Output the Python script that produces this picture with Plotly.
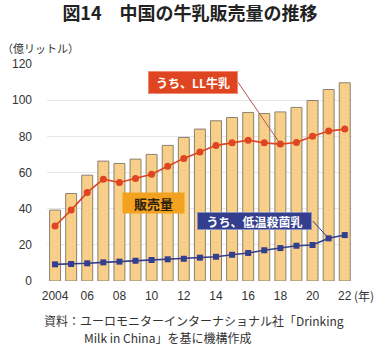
import plotly.graph_objects as go

years = list(range(2004, 2023))
sales = [39.2, 48.4, 58.5, 66.3, 65.0, 67.4, 70.0, 75.0, 79.4, 84.0, 88.6, 90.4,
         93.2, 92.6, 93.5, 96.0, 99.8, 105.9, 109.6]
ll_milk = [30.4, 39.2, 49.0, 56.3, 54.5, 56.7, 59.0, 63.5, 67.8, 71.4, 75.0, 76.4,
           77.9, 76.4, 75.7, 76.6, 80.0, 82.9, 84.0]
pasteurized = [9.2, 9.4, 9.8, 10.3, 10.7, 11.2, 11.6, 12.0, 12.3, 12.9, 13.4, 14.5,
               15.5, 17.0, 18.2, 19.5, 19.9, 23.6, 25.4]
tick_years = [2004, 2006, 2008, 2010, 2012, 2014, 2016, 2018, 2020, 2022]
tick_text = ["2004", "06", "08", "10", "12", "14", "16", "18", "20", "22"]
y_ticks = [0, 20, 40, 60, 80, 100, 120]

FONT = "Liberation Sans, Arial, Noto Sans CJK JP"
CJK = "Noto Sans CJK JP"
RED = "#DF4520"
NAVY = "#343E8E"

fig = go.Figure()
fig.add_trace(go.Bar(
    x=years, y=sales, width=0.68,
    marker=dict(color="#F9D08A", line=dict(color="#8C8070", width=1),
                pattern=dict(shape=".", fgcolor="#EDBE74", bgcolor="#F9D08A",
                             size=4, solidity=0.15)),
    showlegend=False, hoverinfo="skip"))
fig.add_trace(go.Scatter(
    x=years, y=ll_milk, mode="lines+markers",
    line=dict(color=RED, width=1.6), marker=dict(color=RED, size=7, symbol="circle"),
    showlegend=False))
fig.add_trace(go.Scatter(
    x=years, y=pasteurized, mode="lines+markers",
    line=dict(color=NAVY, width=1.6), marker=dict(color=NAVY, size=6, symbol="square"),
    showlegend=False))

# connector lines from label boxes to the series points
fig.add_shape(type="line", xref="x", yref="y", x0=2015.36, y0=110.0,
              x1=2018, y1=ll_milk[years.index(2018)], line=dict(color="#B0584A", width=1))
fig.add_shape(type="line", xref="x", yref="y", x0=2020.02, y0=33.1,
              x1=2021, y1=pasteurized[years.index(2021)], line=dict(color=NAVY, width=1))

fig.add_annotation(x=2012.6, y=109.7, xref="x", yref="y", text="<b>うち、LL牛乳</b>",
                   showarrow=False, bgcolor=RED, bordercolor="#F08A70", borderwidth=1,
                   borderpad=1, width=86, height=19,
                   font=dict(family=CJK, size=12, color="white"))
fig.add_annotation(x=2010.11, y=43.1, xref="x", yref="y", text="<b>販売量</b>",
                   showarrow=False, bgcolor="#F2A21E", borderpad=1, width=59, height=18,
                   font=dict(family=CJK, size=13, color="#2E2010"))
fig.add_annotation(x=2016.39, y=33.1, xref="x", yref="y", text="<b>うち、低温殺菌乳</b>",
                   showarrow=False, bgcolor=NAVY, bordercolor="#8890C0", borderwidth=1,
                   borderpad=0, width=113, height=16,
                   font=dict(family=CJK, size=12, color="white"))

# axis unit labels
fig.add_annotation(x=-0.154, y=1.074, xref="paper", yref="paper", text="（億リットル）",
                   showarrow=False, xanchor="left", yanchor="middle",
                   font=dict(family=CJK, size=11, color="#333333"))
fig.add_annotation(x=1.0, y=-0.069, xref="paper", yref="paper", text="(年)",
                   showarrow=False, xanchor="left", yanchor="middle",
                   font=dict(family=CJK, size=12, color="#333333"))
# source
fig.add_annotation(x=-0.0164, y=-0.184, xref="paper", yref="paper",
                   text="資料：ユーロモニターインターナショナル社「Drinking",
                   showarrow=False, xanchor="left", yanchor="middle",
                   font=dict(family=CJK, size=12, color="#333333"))
fig.add_annotation(x=0.1148, y=-0.262, xref="paper", yref="paper",
                   text="Milk in China」を基に機構作成",
                   showarrow=False, xanchor="left", yanchor="middle",
                   font=dict(family=CJK, size=12, color="#333333"))

fig.update_layout(
    width=380, height=348,
    margin=dict(l=47, r=28, t=64, b=67),
    paper_bgcolor="white", plot_bgcolor="white",
    font=dict(family=FONT, size=12, color="#333333"),
    title=dict(text="<b>図14　中国の牛乳販売量の推移</b>", x=0.5, xanchor="center",
               y=1 - 14 / 348, yanchor="middle", yref="container",
               font=dict(family=CJK, size=18, color="#222222")),
    bargap=0.3,
)
fig.update_xaxes(range=[2003.5, 2022.45], tickvals=tick_years, ticktext=tick_text,
                 showgrid=False, zeroline=False, showline=False, ticks="",
                 ticklabelstandoff=6, tickfont=dict(family=FONT, size=12, color="#333333"))
fig.update_yaxes(range=[0, 120], tickvals=y_ticks, showgrid=True, gridcolor="#E6E6E6",
                 gridwidth=1, zeroline=False, showline=False, ticks="",
                 ticklabelstandoff=14, tickfont=dict(family=FONT, size=12, color="#333333"))

fig.write_html("out.html")
